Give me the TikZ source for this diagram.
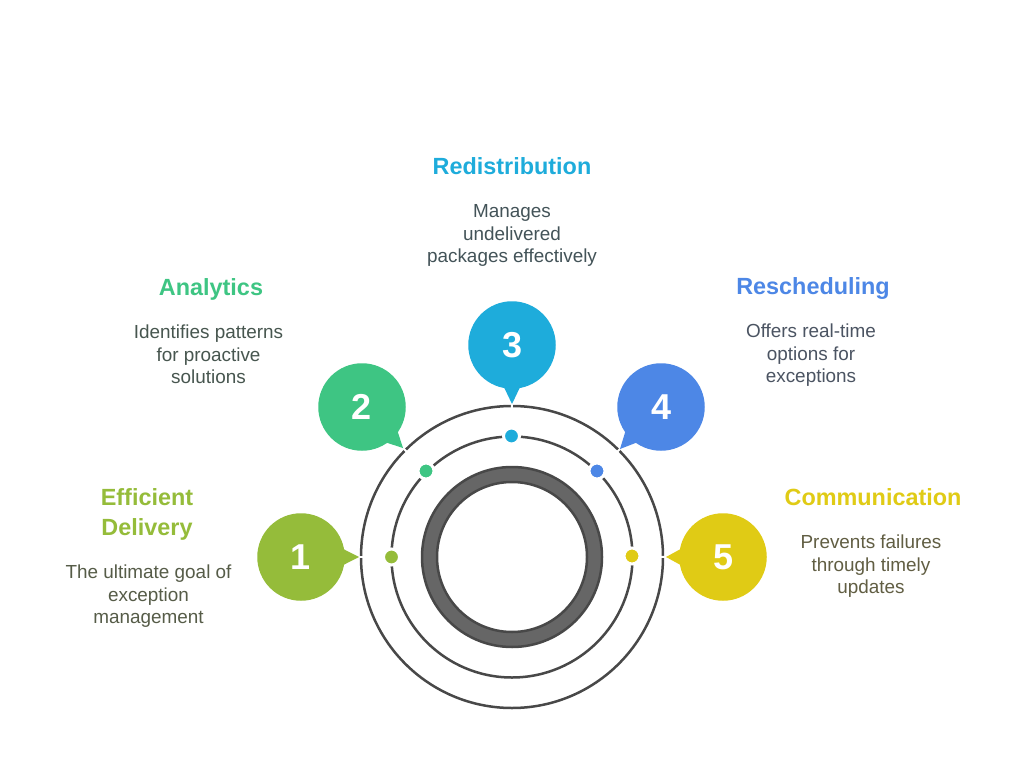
\documentclass[tikz,border=0pt]{standalone}
\usepackage{fontspec}
\setmainfont{Liberation Sans}
\usepackage{xcolor}
\usetikzlibrary{positioning}
\definecolor{leaf}{HTML}{95BC3A}
\definecolor{mint}{HTML}{3EC583}
\definecolor{sky}{HTML}{1EACDB}
\definecolor{royal}{HTML}{4D87E6}
\definecolor{mustard}{HTML}{E0CB15}
\definecolor{ringline}{HTML}{484848}
\definecolor{ringfill}{HTML}{666666}

\begin{document}
\begin{tikzpicture}[
		x=1pt,y=-1pt,
		ring/.style={draw=ringline,line width=2.5pt},
		notch/.style={draw=white,line width=2pt},
		bubble/.style={circle,minimum size=87.5pt,inner sep=0pt,outer sep=0pt,text=white,font=\fontsize{36}{36}\selectfont\bfseries},
		dot/.style={circle,minimum size=16pt,inner sep=0pt,draw=white,line width=3pt},
		heading/.style={align=center,inner sep=0pt,font=\fontsize{23.4}{30}\selectfont\bfseries},
		blurb/.style={align=center,inner sep=0pt,font=\fontsize{18.9}{22.5}\selectfont}
		]
		\useasboundingbox (0,0) rectangle (1024,783);
		\fill [white] (0,0) rectangle (1024,783);
		
		% Draw rings
		\coordinate (hub) at (512,557);
		\draw [ring] (hub) circle (151);
		\draw [ring] (hub) circle (120.5);
		\draw [ring,fill=ringfill,even odd rule] (hub) circle (90) circle (75);
		
		\coordinate (tip1) at (359,557);
		\coordinate (tip2) at (403,448);
		\coordinate (tip3) at (512,404);
		\coordinate (tip4) at (620,449);
		\coordinate (tip5) at (666,557);
		
		\node [dot,fill=leaf] (dot1) at (391.5,557) {};
		\node [dot,fill=mint] (dot2) at (426,471) {};
		\node [dot,fill=sky] (dot3) at (511.5,436) {};
		\node [dot,fill=royal] (dot4) at (597,471) {};
		\node [dot,fill=mustard] (dot5) at (632,556) {};
		
		\draw [notch] (tip1) -- (dot1);
		\draw [notch] (tip2) -- (dot2);
		\draw [notch] (tip3) -- (dot3);
		\draw [notch] (tip4) -- (dot4);
		\draw [notch] (tip5) -- (dot5);
		
		% Draw bubbles
		\node [bubble,fill=leaf] (bub1) at (301,557) {};
		\node [bubble,fill=mint] (bub2) at (362,407) {};
		\node [bubble,fill=sky] (bub3) at (512,345) {};
		\node [bubble,fill=royal] (bub4) at (661,407) {};
		\node [bubble,fill=mustard] (bub5) at (723,557) {};
		
		\fill [leaf] (bub1.10) -- (tip1) -- (bub1.-10) -- (bub1.center) -- cycle;
		\fill [mint] (bub2.-35) -- (tip2) -- (bub2.-55) -- (bub2.center) -- cycle;
		\fill [sky] (bub3.-80) -- (tip3) -- (bub3.-100) -- (bub3.center) -- cycle;
		\fill [royal] (bub4.-125) -- (tip4) -- (bub4.-145) -- (bub4.center) -- cycle;
		\fill [mustard] (bub5.170) -- (tip5) -- (bub5.190) -- (bub5.center) -- cycle;
		
		\node [bubble] (num1) at (bub1) {1};
		\node [bubble] (num2) at (bub2) {2};
		\node [bubble] (num3) at (512.5,345) {3};
		\node [bubble] (num4) at (bub4) {4};
		\node [bubble] (num5) at (bub5) {5};
		
		% Labels
		\node [heading,text=leaf] (title1) at (147,514) {Efficient\\Delivery};
		\node [blurb,text=leaf!20!black!75] (text1) at (148.5,596.5) {The ultimate goal of\\exception\\management};
		\node [heading,text=mint] (title2) at (211,289) {Analytics};
		\node [blurb,text=mint!15!black!75] (text2) at (208.5,354.5) {Identifies patterns\\for proactive\\solutions};
		\node [heading,text=sky] (title3) at (512,166) {Redistribution};
		\node [blurb,text=sky!15!black!75] (text3) at (512,235.5) {Manages\\undelivered\\packages effectively};
		\node [heading,text=royal] (title4) at (813,289) {Rescheduling};
		\node [blurb,text=royal!20!black!75] (text4) at (811,355.5) {Offers real-time\\options for\\exceptions};
		\node [heading,text=mustard] (title5) at (873,497) {Communication};
		\node [blurb,text=mustard!20!black!75] (text5) at (871,566.5) {Prevents failures\\through timely\\updates};
\end{tikzpicture}
\end{document}
